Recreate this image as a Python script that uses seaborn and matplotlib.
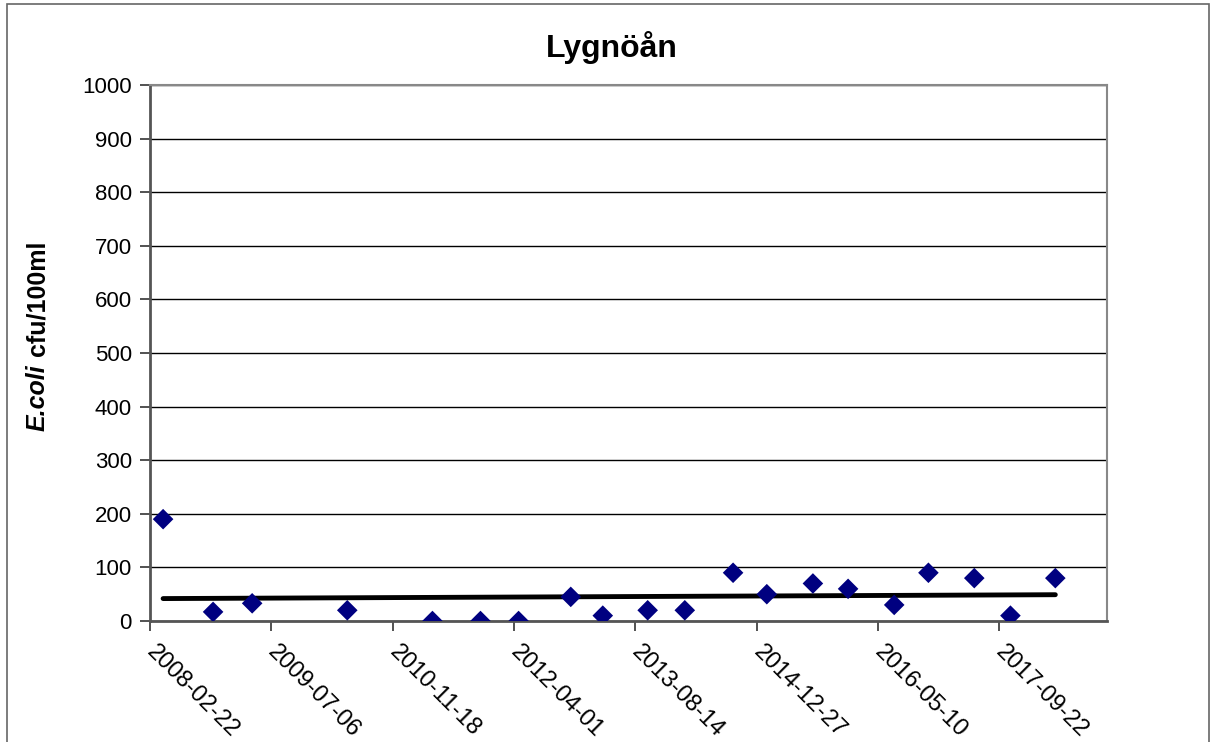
import pandas as pd
import seaborn as sns
import matplotlib.pyplot as plt
import matplotlib.dates as mdates
from matplotlib.patches import Rectangle

# ------------------------------------------------------------------
# data
# ------------------------------------------------------------------
sample_dates = ["2008-04-16", "2008-11-08", "2009-04-18", "2010-05-15", "2011-05-01",
                "2011-11-15", "2012-04-20", "2012-11-21", "2013-04-02", "2013-10-04",
                "2014-03-06", "2014-09-21", "2015-02-07", "2015-08-16", "2016-01-08",
                "2016-07-16", "2016-12-04", "2017-06-11", "2017-11-07", "2018-05-11"]
ecoli = [190, 17, 33, 20, 0, 0, 0, 45, 10, 20,
         20, 90, 50, 70, 60, 30, 90, 80, 10, 80]
tick_dates = ["2008-02-22", "2009-07-06", "2010-11-18", "2012-04-01",
              "2013-08-14", "2014-12-27", "2016-05-10", "2017-09-22"]
x_end = "2018-12-10"

df = pd.DataFrame({"date": pd.to_datetime(sample_dates), "ecoli": ecoli})
df["x"] = mdates.date2num(df["date"])

sns.set_style("white")
plt.rcParams["font.family"] = ["Liberation Sans", "DejaVu Sans"]
plt.rcParams["text.color"] = "black"
plt.rcParams["xtick.color"] = "black"
plt.rcParams["ytick.color"] = "black"

fig = plt.figure(figsize=(12.13, 7.42), dpi=100)
ax = fig.add_axes([150 / 1213, 1 - 621 / 742, 957 / 1213, 536 / 742])

sns.scatterplot(data=df, x="x", y="ecoli", marker="D", color="#000080",
                s=110, edgecolor="none", ax=ax, zorder=4)
sns.regplot(data=df, x="x", y="ecoli", scatter=False, ci=None, truncate=True,
            line_kws={"color": "black", "lw": 3.5, "solid_capstyle": "round"},
            ax=ax)

ax.set_ylim(0, 1000)
ax.set_yticks(range(0, 1001, 100))
ax.set_xlim(mdates.date2num(pd.Timestamp(tick_dates[0])),
            mdates.date2num(pd.Timestamp(x_end)))
ticks = mdates.date2num(pd.to_datetime(tick_dates))
ax.set_xticks(ticks)
ax.set_xticklabels(tick_dates, rotation=-45, ha="left", va="center",
                   rotation_mode="anchor", fontsize=17)
ax.grid(axis="y", color="black", lw=1)
ax.set_axisbelow(True)
ax.tick_params(axis="both", direction="out", length=7, width=1.2, color="#333333",
               bottom=True, left=True)
ax.tick_params(axis="y", labelsize=16, pad=6)
ax.tick_params(axis="x", pad=13)
for side in ["left", "bottom"]:
    ax.spines[side].set_color("#555555")
    ax.spines[side].set_linewidth(2)
for side in ["top", "right"]:
    ax.spines[side].set_color("#888888")
    ax.spines[side].set_linewidth(1.5)
ax.set_xlabel("")
ax.set_ylabel("")

fig.text(612 / 1213, 1 - 47 / 742, "Lygnöån", ha="center", va="center",
         fontsize=23, fontweight="bold")

# y label: italic "E.coli" followed by upright " cfu/100ml"
lab_x = 45 / 1213
t1 = fig.text(lab_x, 1 - 431 / 742, "E.coli", rotation=90, rotation_mode="anchor",
              ha="left", va="baseline", fontsize=18, fontweight="bold",
              style="italic")
ax.annotate(" cfu/100ml", xy=(lab_x, 1), xycoords=("figure fraction", t1),
            rotation=90, rotation_mode="anchor", ha="left", va="baseline",
            fontsize=18, fontweight="bold", annotation_clip=False)

fig.patches.append(Rectangle((7 / 1213, -0.02), 1202 / 1213, 1.02 - 4 / 742,
                             transform=fig.transFigure, fill=False,
                             edgecolor="#666666", lw=1.2))

fig.savefig("out.png", dpi=100)
print("Saved out.png")
